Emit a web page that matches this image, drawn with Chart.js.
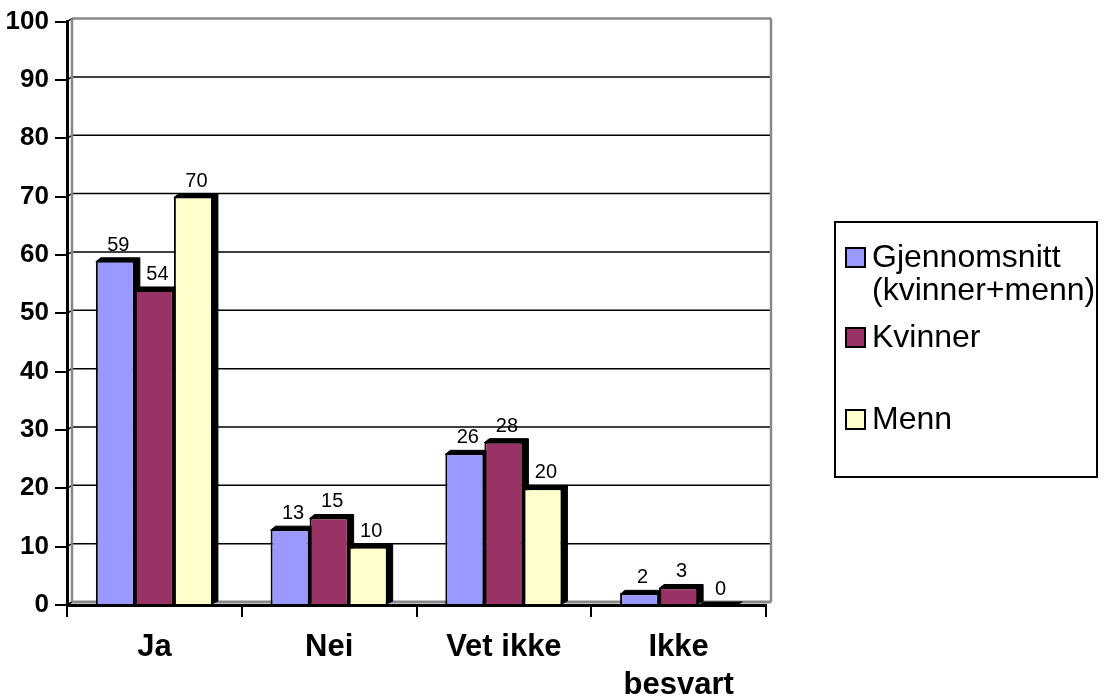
<!DOCTYPE html>
<html>
<head>
<meta charset="utf-8">
<title>Svarfordeling</title>
<script src="https://cdn.jsdelivr.net/npm/chart.js@4.4.0/dist/chart.umd.min.js"></script>
<style>
    html, body { margin: 0; padding: 0; background: #fff; }
    #wrap { width: 1104px; height: 700px; }
</style>
</head>
<body>
<div id="wrap"><canvas id="myChart" width="1104" height="700"></canvas></div>
<script>
// data
var categories = [['Ja'], ['Nei'], ['Vet ikke'], ['Ikke', 'besvart']];
var seriesNames = [['Gjennomsnitt', '(kvinner+menn)'], ['Kvinner'], ['Menn']];
var gjennomsnitt = [59, 13, 26, 2];
var kvinner = [54, 15, 28, 3];
var menn = [70, 10, 20, 0];
var yTicks = [0, 10, 20, 30, 40, 50, 60, 70, 80, 90, 100];

var seriesValues = [gjennomsnitt, kvinner, menn];
var colors = ['#9999FF', '#993366', '#FFFFCC'];
var FONT = 'Arial, "Liberation Sans", sans-serif';

// depth of the little 3D effect (back wall + bar sides)
var DX = 5, DY = 3;

function line(ctx, x1, y1, x2, y2) {
    ctx.beginPath();
    ctx.moveTo(x1, y1);
    ctx.lineTo(x2, y2);
    ctx.stroke();
}

// back wall, gridlines and the dark sides of the bars
var wallPlugin = {
    id: 'wall',
    beforeDatasetsDraw: function (chart) {
        var ctx = chart.ctx, a = chart.chartArea, ys = chart.scales.y;
        ctx.save();
        yTicks.forEach(function (v) {
            var y = ys.getPixelForValue(v);
            if (v > 0) {
                ctx.strokeStyle = v === 100 ? '#888' : '#000';
                ctx.lineWidth = v === 100 ? 2.5 : 1.5;
                line(ctx, a.left + DX, y - DY, a.right + DX, y - DY);
            }
            ctx.strokeStyle = '#000';
            ctx.lineWidth = 1.5;
            line(ctx, a.left, y, a.left + DX, y - DY);
        });
        ctx.strokeStyle = '#888';
        ctx.lineWidth = 2.5;
        line(ctx, a.left + DX, a.top - DY, a.left + DX, a.bottom - DY);
        line(ctx, a.right + DX, a.top - DY, a.right + DX, a.bottom - DY);
        ctx.lineWidth = 3;
        line(ctx, a.left + DX, a.bottom - DY, a.right + DX, a.bottom - DY);

        // top and right faces of every bar
        ctx.fillStyle = '#000';
        ctx.strokeStyle = '#000';
        ctx.lineWidth = 1;
        chart.data.datasets.forEach(function (ds, i) {
            chart.getDatasetMeta(i).data.forEach(function (bar) {
                var p = bar.getProps(['x', 'y', 'base', 'width'], true);
                var x0 = p.x - p.width / 2, x1 = p.x + p.width / 2;
                var top = Math.min(p.y, p.base), bot = Math.max(p.y, p.base);
                ctx.beginPath();
                ctx.moveTo(x0, top + 1);
                ctx.lineTo(x0 + DX, top - DY);
                ctx.lineTo(x1 + DX, top - DY);
                ctx.lineTo(x1 + DX, bot - DY);
                ctx.lineTo(x1 - 1, bot);
                ctx.lineTo(x1 - 1, top + 1);
                ctx.closePath();
                ctx.fill();
                ctx.stroke();
            });
        });
        ctx.restore();
    }
};

// value labels above the bars
var valueLabels = {
    id: 'valueLabels',
    afterDatasetsDraw: function (chart) {
        var ctx = chart.ctx;
        ctx.save();
        ctx.font = '20px ' + FONT;
        ctx.fillStyle = '#000';
        ctx.textAlign = 'center';
        ctx.textBaseline = 'alphabetic';
        chart.data.datasets.forEach(function (ds, i) {
            chart.getDatasetMeta(i).data.forEach(function (bar, j) {
                ctx.fillText(String(ds.data[j]), bar.x + 3, bar.y - 10);
            });
        });
        ctx.restore();
    }
};

// boxed legend on the right, drawn like the original
var boxLegend = {
    id: 'boxLegend',
    afterDraw: function (chart) {
        var ctx = chart.ctx;
        var rows = [258, 338, 420];
        ctx.save();
        ctx.strokeStyle = '#000';
        ctx.lineWidth = 2;
        ctx.strokeRect(835, 222, 262, 255);
        ctx.font = '32px ' + FONT;
        ctx.textAlign = 'left';
        ctx.textBaseline = 'middle';
        seriesNames.forEach(function (name, i) {
            var cy = rows[i];
            ctx.fillStyle = colors[i];
            ctx.fillRect(846, cy - 10, 19, 19);
            ctx.strokeRect(846, cy - 10, 19, 19);
            ctx.fillStyle = '#000';
            name.forEach(function (txt, k) {
                ctx.fillText(txt, 872, cy + k * 33);
            });
        });
        ctx.restore();
    }
};

function chart() {
    var ctx = document.getElementById('myChart').getContext('2d');

    var datasets = seriesValues.map(function (vals, i) {
        return {
            label: seriesNames[i].join(' '),
            data: vals,
            backgroundColor: colors[i],
            borderColor: '#000',
            borderWidth: 2,
            borderSkipped: 'bottom',
            categoryPercentage: 0.67,
            barPercentage: 1.0
        };
    });

    new Chart(ctx, {
        type: 'bar',
        data: {
            labels: categories,
            datasets: datasets
        },
        options: {
            responsive: false,
            animation: false,
            layout: {
                padding: { left: 0, top: 19.5, right: 338, bottom: 0 }
            },
            plugins: {
                legend: { display: false },
                tooltip: { enabled: false }
            },
            scales: {
                x: {
                    afterFit: function (scale) { scale.height = 95; },
                    grid: {
                        offset: true,
                        drawOnChartArea: false,
                        drawTicks: true,
                        tickLength: 12,
                        color: '#000',
                        lineWidth: 2
                    },
                    border: { color: '#000', width: 3 },
                    ticks: {
                        color: '#000',
                        padding: 11,
                        maxRotation: 0,
                        font: { family: FONT, size: 31, weight: 'bold', lineHeight: 1.23 }
                    }
                },
                y: {
                    min: 0,
                    max: 100,
                    afterFit: function (scale) { scale.width = 67; },
                    grid: {
                        drawOnChartArea: false,
                        drawTicks: true,
                        tickLength: 12,
                        color: '#000',
                        lineWidth: 2
                    },
                    border: { color: '#000', width: 3 },
                    ticks: {
                        stepSize: 10,
                        color: '#000',
                        padding: 6,
                        font: { family: FONT, size: 26, weight: 'bold' }
                    }
                }
            }
        },
        plugins: [wallPlugin, valueLabels, boxLegend]
    });
}
chart();
</script>
</body>
</html>
